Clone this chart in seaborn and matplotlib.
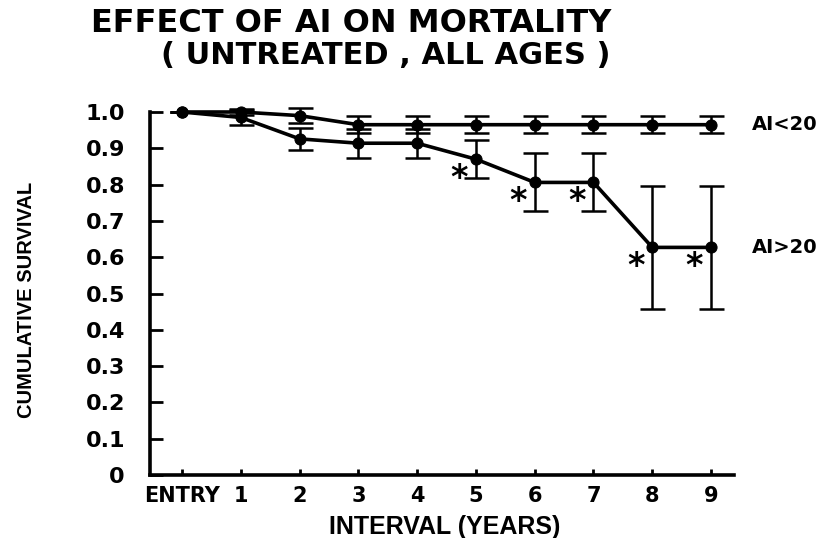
import numpy as np
import pandas as pd
import matplotlib
matplotlib.use("Agg")
import matplotlib.pyplot as plt
import seaborn as sns

# data
intervals = [0, 1, 2, 3, 4, 5, 6, 7, 8, 9]
tick_labels = ["ENTRY", "1", "2", "3", "4", "5", "6", "7", "8", "9"]
ai_lt20 = [1.0, 1.0, 0.99, 0.965, 0.965, 0.965, 0.965, 0.965, 0.965, 0.965]
ai_lt20_err = [0, 0.008, 0.02, 0.023, 0.023, 0.023, 0.023, 0.023, 0.023, 0.023]
ai_gt20 = [1.0, 0.985, 0.926, 0.914, 0.914, 0.87, 0.806, 0.806, 0.627, 0.627]
ai_gt20_err = [0, 0.02, 0.03, 0.04, 0.04, 0.052, 0.08, 0.08, 0.17, 0.17]
signif = [5, 6, 7, 8, 9]  # intervals marked with *

sns.set_style("ticks")
plt.rcParams['font.family'] = ['DejaVu Sans']
# plain black text like the original print
for k in ['text.color', 'axes.labelcolor', 'xtick.color', 'ytick.color',
          'axes.edgecolor']:
    plt.rcParams[k] = 'black'

df = pd.DataFrame({
    'interval': intervals * 2,
    'survival': ai_lt20 + ai_gt20,
    'group': ['AI<20'] * 10 + ['AI>20'] * 10,
})

fig = plt.figure(figsize=(8.29, 5.38), dpi=100)
ax = fig.add_axes([150/829, 63/538, 584/829, 363/538])

sns.lineplot(data=df, x='interval', y='survival', hue='group',
             palette=['black', 'black'], marker='o', markersize=8,
             markeredgecolor='black', linewidth=2.6, legend=False, ax=ax,
             clip_on=False)

ax.errorbar(intervals, ai_lt20, yerr=ai_lt20_err, fmt='none', ecolor='black',
            elinewidth=1.8, capsize=9, capthick=1.8, clip_on=False)
ax.errorbar(intervals, ai_gt20, yerr=ai_gt20_err, fmt='none', ecolor='black',
            elinewidth=1.8, capsize=9, capthick=1.8, clip_on=False)

for i in signif:
    ax.annotate('*', (intervals[i], ai_gt20[i]), xytext=(-12, -14),
                textcoords='offset points', ha='center', va='center',
                fontsize=24, fontweight='bold')

ax.text(9.7, ai_lt20[-1], 'AI<20', ha='left', va='center', fontsize=14,
        fontweight='bold', clip_on=False)
ax.text(9.7, ai_gt20[-1], 'AI>20', ha='left', va='center', fontsize=14,
        fontweight='bold', clip_on=False)

ax.set_xlim(-0.544, 9.39)
ax.set_ylim(0, 1.0)
ax.set_xticks(intervals)
ax.set_xticklabels(tick_labels)
yt = np.round(np.arange(0, 1.01, 0.1), 1)
ax.set_yticks(yt)
ax.set_yticklabels(['0'] + [f'{v:.1f}' for v in yt[1:]])

ax.tick_params(axis='y', direction='in', length=9, width=2, pad=18,
               labelsize=16)
ax.tick_params(axis='x', direction='in', length=4, width=2, pad=8,
               labelsize=15)
for lab in ax.get_xticklabels() + ax.get_yticklabels():
    lab.set_fontweight('bold')

sns.despine(ax=ax)
for s in ['left', 'bottom']:
    ax.spines[s].set_linewidth(2.6)

ax.set_xlabel('INTERVAL (YEARS)', fontsize=18, fontweight='bold',
              family=['Liberation Sans', 'DejaVu Sans'], va='center')
ax.xaxis.set_label_coords(0.505, -0.143)
ax.set_ylabel('CUMULATIVE SURVIVAL', fontsize=14.5, fontweight='bold',
              family=['Liberation Sans', 'DejaVu Sans'], va='center')
ax.yaxis.set_label_coords(-0.212, 0.482)

fig.text(351/829, 1 - 23/538, 'EFFECT OF AI ON MORTALITY', ha='center',
         va='center', fontsize=23, fontweight='bold')
fig.text(386/829, 1 - 56/538, '( UNTREATED , ALL AGES )', ha='center',
         va='center', fontsize=22, fontweight='bold')

plt.savefig('out.png', dpi=100)
